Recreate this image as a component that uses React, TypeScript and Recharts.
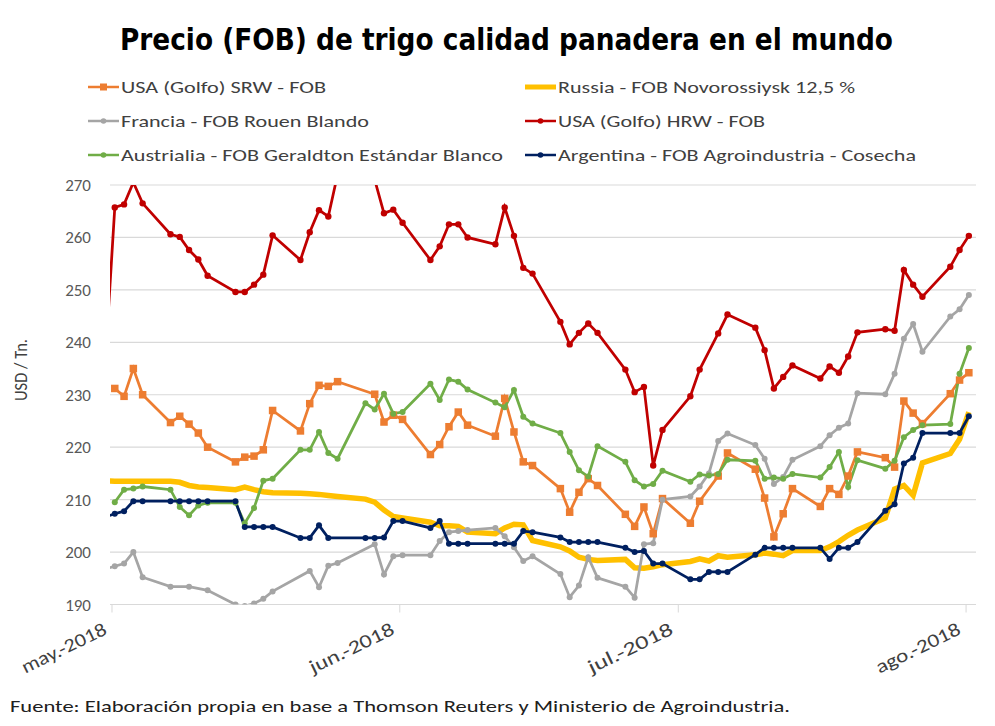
import React from 'react';
import { LineChart, Line, XAxis, YAxis, CartesianGrid } from 'recharts';

// Días hábiles contados desde el 1 de mayo de 2018 (día 0), una fila por semana (lun..vie).
const DAYS = [
  -1, 0, 1, 2, 3,
  6, 7, 8, 9, 10,
  13, 14, 15, 16, 17,
  20, 21, 22, 23, 24,
  27, 28, 29, 30, 31,
  34, 35, 36, 37, 38,
  41, 42, 43, 44, 45,
  48, 49, 50, 51, 52,
  55, 56, 57, 58, 59,
  62, 63, 64, 65, 66,
  69, 70, 71, 72, 73,
  76, 77, 78, 79, 80,
  83, 84, 85, 86, 87,
  90, 91, 92,
];

// USD / Tn, alineado con DAYS (null = sin cotización)
const USA_SRW = [
  null, 231.2, 229.7, 235.0, 230.0,
  224.7, 225.9, 224.4, 222.7, 220.0,
  217.2, 218.1, 218.3, 219.5, 227.0,
  223.1, 228.3, 231.8, 231.6, 232.5,
  null, 230.1, 224.8, 226.1, 225.3,
  218.6, 220.5, 223.9, 226.7, 224.2,
  222.1, 229.3, 222.9, 217.2, 216.5,
  212.1, 207.6, 211.4, 214.0, 212.7,
  207.2, 204.9, 208.6, 203.5, 210.2,
  205.5, 209.7, null, 214.5, 218.9,
  215.8, 210.3, 202.9, 207.3, 212.1,
  208.7, 212.1, 211.0, 214.5, 219.1,
  218.0, 216.2, 228.8, 226.5, 224.5,
  230.2, 232.8, 234.2,
];

const RUSSIA = [
  213.6, 213.5, 213.5, 213.5, 213.5,
  213.5, 213.3, 212.7, 212.4, 212.3,
  211.9, 212.4, 211.9, 211.5, 211.3,
  211.2, 211.1, 211.0, 210.8, 210.6,
  210.1, 209.5, 208.0, 206.8, 206.5,
  205.7, 205.0, 205.0, 204.9, 203.8,
  203.5, 204.6, 205.3, 205.2, 202.2,
  201.0, 200.2, 199.0, 198.6, 198.4,
  198.6, 197.0, 196.9, 197.2, 197.6,
  198.2, 198.7, 198.3, 199.3, 199.0,
  199.5, 199.8, 199.6, 199.3, 200.3,
  200.3, 201.0, 202.0, 203.2, 204.2,
  206.5, 212.0, 212.7, 210.8, 217.0,
  218.8, 221.5, 226.7,
];

const FRANCIA = [
  196.8, 197.3, 197.8, 200.0, 195.2,
  193.4, null, 193.4, null, 192.7,
  190.0, 189.7, 190.2, 191.1, 192.5,
  null, 196.4, 193.3, 197.4, 197.9,
  null, 201.5, 195.7, 199.2, 199.4,
  199.4, 202.1, 203.8, 204.0, 204.2,
  204.6, 203.0, 200.9, 198.3, 199.2,
  195.8, 191.4, 193.6, 199.0, 195.1,
  193.4, 191.3, 201.5, 201.7, 210.0,
  210.6, 212.5, 215.0, 221.2, 222.6,
  220.4, 217.8, 213.0, 214.3, 217.6,
  220.2, 222.3, 223.7, 224.5, 230.3,
  230.1, 234.0, 240.7, 243.5, 238.2,
  244.9, 246.3, 249.0,
];

const USA_HRW = [
  237.0, 265.7, 266.3, 270.5, 266.5,
  260.6, 260.1, 257.6, 255.8, 252.7,
  249.6, 249.6, 251.0, 252.9, 260.4,
  255.7, 261.0, 265.2, 264.0, 272.0,
  null, 271.0, 264.6, 265.3, 262.8,
  255.7, 258.3, 262.5, 262.5, 260.0,
  258.7, 265.7, 260.3, 254.2, 253.1,
  243.9, 239.6, 241.8, 243.6, 241.8,
  234.8, 230.5, 231.5, 216.5, 223.3,
  229.7, 234.8, null, 241.7, 245.3,
  242.8, 238.5, 231.2, 233.4, 235.6,
  233.1, 235.4, 234.2, 237.3, 241.9,
  242.5, 242.2, 253.8, 251.0, 248.7,
  254.4, 257.6, 260.3,
];

const AUSTRALIA = [
  null, 209.5, 211.9, 212.1, 212.5,
  211.9, 208.6, 207.0, 208.9, 209.4,
  209.4, 205.5, 208.4, 213.6, 214.0,
  219.5, 219.5, 222.9, 218.9, 217.8,
  228.4, 227.2, 230.2, 226.4, 226.7,
  232.1, 229.0, 232.9, 232.5, 231.0,
  228.5, 227.6, 230.9, 225.8, 224.5,
  222.7, 219.1, 215.6, 214.4, 220.2,
  217.2, 213.7, 212.5, 213.0, 215.5,
  213.4, 214.8, 214.6, 214.9, 217.6,
  217.4, 214.0, 214.2, 214.0, 214.9,
  214.2, 216.2, 219.1, 212.4, 217.5,
  215.9, 217.4, 221.9, 223.3, 224.2,
  224.4, 234.0, 238.9,
];

const ARGENTINA = [
  206.7, 207.3, 207.8, 209.7, 209.7,
  209.7, 209.7, 209.7, 209.7, 209.7,
  209.7, 204.8, 204.8, 204.8, 204.8,
  202.7, 202.7, 205.1, 202.7, null,
  202.7, 202.7, 202.8, 205.9, 205.9,
  204.6, 205.9, 201.6, 201.6, 201.6,
  201.6, 201.6, 201.6, 204.0, 203.8,
  202.8, 201.9, 201.9, 201.9, 201.9,
  200.8, 200.0, 200.2, 197.8, 197.8,
  194.8, 194.8, 196.2, 196.2, 196.2,
  199.5, 200.8, 200.8, 200.8, 200.8,
  200.8, 198.7, 200.8, 200.8, 201.9,
  207.9, 209.1, 216.9, 218.0, 222.7,
  222.7, 222.7, 225.9,
];

const MONTH_TICKS = [0, 31, 61, 92];
const MONTH_LABELS = ['may.-2018', 'jun.-2018', 'jul.-2018', 'ago.-2018'];
const Y_TICKS = [190, 200, 210, 220, 230, 240, 250, 260, 270];

const TITLE = 'Precio (FOB) de trigo calidad panadera en el mundo';
const Y_LABEL = 'USD / Tn.';
const SOURCE = 'Fuente: Elaboración propia en base a Thomson Reuters  y Ministerio de Agroindustria.';

const ORANGE = '#ed7d31';
const YELLOW = '#ffc000';
const GRAY = '#a5a5a5';
const RED = '#c00000';
const GREEN = '#70ad47';
const NAVY = '#002060';

const FONT = 'Carlito, Calibri, Lato, "Open Sans", sans-serif';
const TITLE_FONT = '"DejaVu Sans Condensed", "Roboto Condensed", "Liberation Sans Narrow", Roboto, sans-serif';

// el eje de fechas de Excel dibuja cada punto un poco a la derecha de la marca del día
const POINT_SHIFT = 0.3;

type Marker = 'square' | 'dot' | 'none';

// leyenda en dos columnas, en el orden de las series de Excel
const LEGEND: { name: string; color: string; marker: Marker; width: number }[] = [
  { name: 'USA (Golfo) SRW - FOB', color: ORANGE, marker: 'square', width: 205 },
  { name: 'Russia - FOB Novorossiysk 12,5 %', color: YELLOW, marker: 'none', width: 297 },
  { name: 'Francia - FOB Rouen Blando', color: GRAY, marker: 'dot', width: 248 },
  { name: 'USA (Golfo) HRW - FOB', color: RED, marker: 'dot', width: 207 },
  { name: 'Austrialia - FOB Geraldton Estándar Blanco', color: GREEN, marker: 'dot', width: 382 },
  { name: 'Argentina - FOB Agroindustria - Cosecha', color: NAVY, marker: 'dot', width: 358 },
];

const squareDot = (color: string) => (p: any) => {
  const { cx, cy, index } = p;
  if (cx == null || cy == null || p.value == null) return <g key={`sq-${index}`} />;
  return <rect key={`sq-${index}`} x={cx - 3.75} y={cy - 3.75} width={7.5} height={7.5} fill={color} />;
};

const roundDot = (color: string, r: number) => (p: any) => {
  const { cx, cy, index } = p;
  if (cx == null || cy == null || p.value == null) return <g key={`c-${index}`} />;
  return <circle key={`c-${index}`} cx={cx} cy={cy} r={r} fill={color} />;
};

function MonthTick({ x, y, payload }: any) {
  const label = MONTH_LABELS[MONTH_TICKS.indexOf(payload.value)];
  return (
    <g transform={`translate(${x - 4},${y + 19})`}>
      <text
        transform="rotate(-26)"
        textAnchor="end"
        fill="#404040"
        fontSize={19}
        fontFamily={FONT}
        textLength={92}
        lengthAdjust="spacingAndGlyphs"
      >
        {label}
      </text>
    </g>
  );
}

function Legend() {
  return (
    <g fontFamily={FONT} fontSize={17} fill="#404040">
      {LEGEND.map((item, i) => {
        const x0 = i % 2 === 0 ? 88 : 525;
        const y = 87 + Math.floor(i / 2) * 34;
        return (
          <g key={item.name}>
            <line
              x1={x0}
              x2={x0 + 31}
              y1={y}
              y2={y}
              stroke={item.color}
              strokeWidth={item.marker === 'none' ? 5 : 2.5}
            />
            {item.marker === 'square' && <rect x={x0 + 12} y={y - 3.5} width={7} height={7} fill={item.color} />}
            {item.marker === 'dot' && <circle cx={x0 + 15.5} cy={y} r={2.8} fill={item.color} />}
            <text
              x={x0 + 33}
              y={y}
              dominantBaseline="central"
              textLength={item.width}
              lengthAdjust="spacingAndGlyphs"
            >
              {item.name}
            </text>
          </g>
        );
      })}
    </g>
  );
}

export default function App() {
  const rows = DAYS.map((d, i) => ({
    x: d + POINT_SHIFT,
    srw: USA_SRW[i],
    rusia: RUSSIA[i],
    francia: FRANCIA[i],
    hrw: USA_HRW[i],
    australia: AUSTRALIA[i],
    argentina: ARGENTINA[i],
  }));

  return (
    <div style={{ position: 'relative', width: 995, height: 726, margin: -8, background: '#fff', overflow: 'hidden' }}>
      <div
        style={{
          position: 'absolute',
          left: 6,
          top: 6,
          width: 985,
          height: 740,
          border: '1px solid #d9d9d9',
        }}
      />
      <LineChart
        width={995}
        height={726}
        data={rows}
        margin={{ top: 185, right: 19, bottom: 61.5, left: 50 }}
        style={{ position: 'absolute', left: 0, top: 0 }}
      >
        <CartesianGrid vertical={false} stroke="#d9d9d9" strokeWidth={1.2} />
        <XAxis
          dataKey="x"
          type="number"
          domain={[-0.215, 93.07]}
          allowDataOverflow
          ticks={MONTH_TICKS}
          interval={0}
          tick={<MonthTick />}
          tickSize={8}
          tickMargin={2}
          tickLine={{ stroke: '#d9d9d9' }}
          axisLine={{ stroke: '#d9d9d9', strokeWidth: 1.2 }}
          height={60}
        />
        <YAxis
          type="number"
          domain={[190, 270]}
          allowDataOverflow
          ticks={Y_TICKS}
          interval={0}
          axisLine={false}
          tickLine={false}
          tickSize={0}
          tickMargin={19}
          width={60}
          tick={{ fill: '#595959', fontSize: 17, fontFamily: FONT }}
        />
        <Line type="linear" dataKey="srw" stroke={ORANGE} strokeWidth={2.75} dot={squareDot(ORANGE)} activeDot={false} connectNulls isAnimationActive={false} />
        <Line type="linear" dataKey="rusia" stroke={YELLOW} strokeWidth={5.5} dot={false} activeDot={false} connectNulls isAnimationActive={false} />
        <Line type="linear" dataKey="francia" stroke={GRAY} strokeWidth={2.75} dot={roundDot(GRAY, 3)} activeDot={false} connectNulls isAnimationActive={false} />
        <Line type="linear" dataKey="hrw" stroke={RED} strokeWidth={2.75} dot={roundDot(RED, 3.2)} activeDot={false} connectNulls isAnimationActive={false} />
        <Line type="linear" dataKey="australia" stroke={GREEN} strokeWidth={2.75} dot={roundDot(GREEN, 3)} activeDot={false} connectNulls isAnimationActive={false} />
        <Line type="linear" dataKey="argentina" stroke={NAVY} strokeWidth={2.75} dot={roundDot(NAVY, 3)} activeDot={false} connectNulls isAnimationActive={false} />
      </LineChart>
      <svg width={995} height={726} style={{ position: 'absolute', left: 0, top: 0, pointerEvents: 'none' }}>
        <text
          x={120}
          y={50}
          fontFamily={TITLE_FONT}
          fontWeight="bold"
          fontSize={31}
          fill="#000"
          textLength={773}
          lengthAdjust="spacingAndGlyphs"
        >
          {TITLE}
        </text>
        <Legend />
        <text
          transform="translate(27,370) rotate(-90)"
          textAnchor="middle"
          fontFamily={FONT}
          fontSize={18}
          fill="#404040"
          textLength={62}
          lengthAdjust="spacingAndGlyphs"
        >
          {Y_LABEL}
        </text>
        <text
          x={10}
          y={712}
          fontFamily={FONT}
          fontSize={17}
          fill="#202020"
          textLength={780}
          lengthAdjust="spacingAndGlyphs"
        >
          {SOURCE}
        </text>
      </svg>
    </div>
  );
}
